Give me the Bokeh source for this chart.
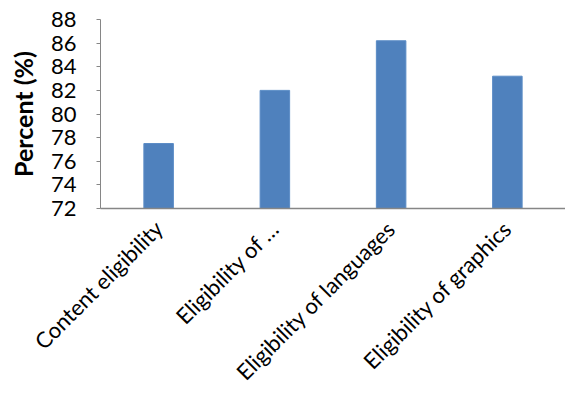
from math import pi
from bokeh.plotting import figure
from bokeh.models import Range1d, FactorRange, FixedTicker
from bokeh.embed import file_html
from bokeh.resources import INLINE

categories = ["Content eligibility", "Eligibility of …", "Eligibility of languages", "Eligibility of graphics"]
percent = [77.5, 82.0, 86.2, 83.2]
y_ticks = [72, 74, 76, 78, 80, 82, 84, 86, 88]

FONT = "Lato"

p = figure(width=565, height=397, output_backend="svg", toolbar_location=None,
           x_range=FactorRange(*categories, range_padding=0), y_range=Range1d(72, 88),
           min_border_left=100, min_border_right=0, min_border_top=19, min_border_bottom=189)
p.outline_line_color = None
p.xgrid.grid_line_color = None
p.ygrid.grid_line_color = None

p.vbar(x=categories, top=percent, bottom=72, width=0.254,
       fill_color="#4F81BD", line_color="#5B8CC6", line_width=1)

p.yaxis.ticker = FixedTicker(ticks=y_ticks)
p.yaxis.axis_label = "Percent (%)"
p.yaxis.axis_label_text_font = FONT
p.yaxis.axis_label_text_font_style = "bold"
p.yaxis.axis_label_text_font_size = "25px"
p.yaxis.axis_label_text_color = "#000000"
p.yaxis.axis_label_standoff = 10
p.yaxis.major_label_text_font = FONT
p.yaxis.major_label_text_font_size = "22px"
p.yaxis.major_label_text_color = "#000000"
p.yaxis.major_label_standoff = 20
p.yaxis.major_tick_out = 4
p.yaxis.major_tick_in = 0
p.yaxis.minor_tick_line_color = None
p.yaxis.axis_line_color = "#868686"
p.yaxis.major_tick_line_color = "#868686"

p.xaxis.major_label_orientation = pi / 4
p.xaxis.major_label_text_font = FONT
p.xaxis.major_label_text_font_size = "22px"
p.xaxis.major_label_text_color = "#000000"
p.xaxis.major_label_standoff = 10
p.xaxis.major_tick_line_color = None
p.xaxis.axis_line_color = "#868686"
p.xaxis.axis_line_width = 1.5

open("out.html", "w").write(file_html(p, INLINE))
